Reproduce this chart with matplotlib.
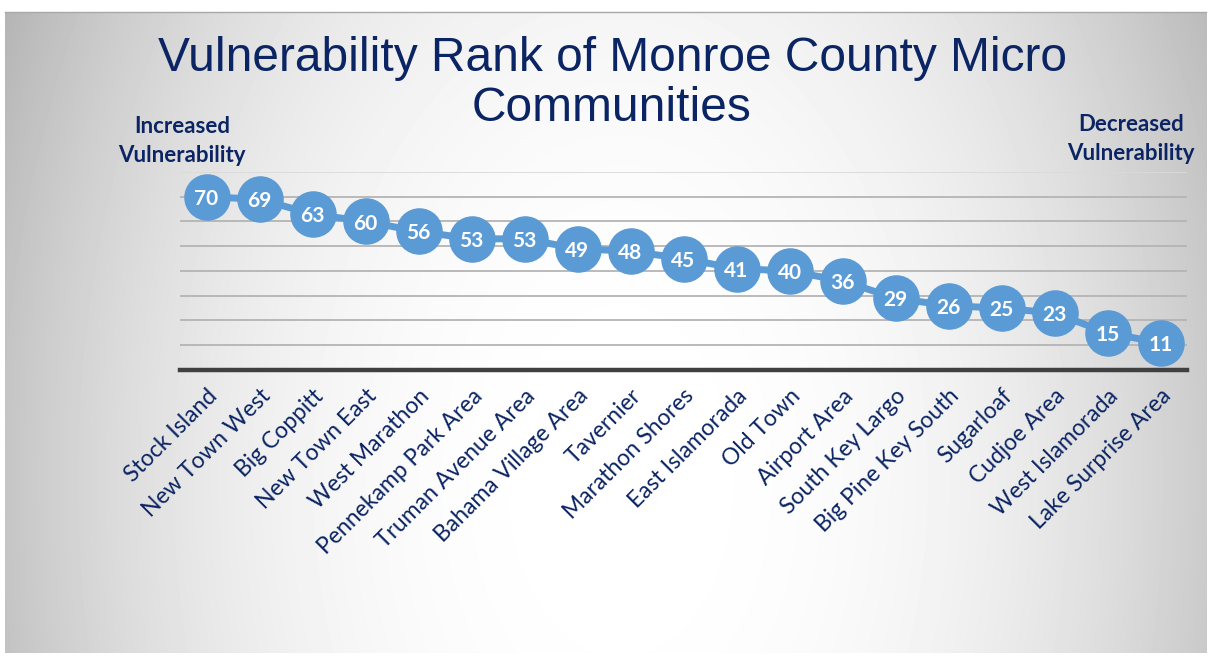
import matplotlib.pyplot as plt
import numpy as np

communities = [
    "Stock Island", "New Town West", "Big Coppitt", "New Town East",
    "West Marathon", "Pennekamp Park Area", "Truman Avenue Area",
    "Bahama Village Area", "Tavernier", "Marathon Shores",
    "East Islamorada", "Old Town", "Airport Area", "South Key Largo",
    "Big Pine Key South", "Sugarloaf", "Cudjoe Area", "West Islamorada",
    "Lake Surprise Area",
]
rank = [70, 69, 63, 60, 56, 53, 53, 49, 48, 45, 41, 40, 36, 29, 26, 25, 23, 15, 11]
grid_levels = [10, 20, 30, 40, 50, 60, 70, 80]

W, H = 1211, 656
NAVY = "#0B2463"
BLUE = "#5B9BD5"


def fx(x):
    return x / W


def fy(y):
    return 1 - y / H


fig = plt.figure(figsize=(W / 100, H / 100), dpi=100)

# radial grey-to-white backdrop
bg = fig.add_axes([0, 0, 1, 1])
bg.set_xlim(0, W)
bg.set_ylim(H, 0)
bg.axis("off")
yy, xx = np.mgrid[0:H, 0:W]
r = np.sqrt(((xx - 620) / 640.0) ** 2 + ((yy - 480) / 1000.0) ** 2)
shade = 1 - 0.25 * np.clip(r, 0, 1.2) ** 2.4
img = np.ones((H, W))
panel = (xx >= 5) & (xx <= 1206) & (yy >= 12) & (yy <= 652)
img[panel] = shade[panel]
bg.imshow(img, cmap="gray", vmin=0, vmax=1, extent=(0, W, H, 0), aspect="auto")
bg.plot([5, 1206], [12, 12], color="#A8A8A8", lw=1)

ax = fig.add_axes([fx(180), fy(370), fx(1187) - fx(180), fy(172) - fy(370)])
ax.patch.set_alpha(0)
x = np.arange(len(communities))
ax.set_xlim(-0.5, len(communities) - 0.5)
ax.set_ylim(0, 80)

for level in grid_levels:
    ax.axhline(level, color="#DADADA" if level == 80 else "#B4B4B4", lw=1.3, zorder=1)
ax.axhline(0, color="#404040", lw=3.2, zorder=2, clip_on=False)

ax.plot(x, rank, color=BLUE, lw=5, marker="o", ms=32.5, mfc=BLUE, mec=BLUE,
        zorder=3, clip_on=False)
for xi, v in zip(x, rank):
    ax.text(xi, v, str(v), ha="center", va="center_baseline", color="white",
            fontsize=15, fontweight="bold", family="Lato", zorder=4)

for side in ax.spines.values():
    side.set_visible(False)
ax.set_yticks([])
ax.set_xticks(x)
ax.set_xticklabels(communities, rotation=45, ha="right", va="top",
                   rotation_mode="anchor", color=NAVY, fontsize=16.5, family="Lato")
ax.tick_params(axis="x", length=0, pad=11)

fig.text(fx(612), fy(71), "Vulnerability Rank of Monroe County Micro", ha="center",
         va="baseline", color=NAVY, fontsize=34.5, family="Liberation Sans")
fig.text(fx(612), fy(121), "Communities", ha="center", va="baseline", color=NAVY,
         fontsize=34.5, family="Liberation Sans")

fig.text(fx(182), fy(133), "Increased", ha="center", va="baseline", color=NAVY,
         fontsize=16, fontweight="bold", family="Lato")
fig.text(fx(182), fy(162), "Vulnerability", ha="center", va="baseline", color=NAVY,
         fontsize=16, fontweight="bold", family="Lato")
fig.text(fx(1131), fy(131), "Decreased", ha="center", va="baseline", color=NAVY,
         fontsize=16, fontweight="bold", family="Lato")
fig.text(fx(1131), fy(160), "Vulnerability", ha="center", va="baseline", color=NAVY,
         fontsize=16, fontweight="bold", family="Lato")

fig.savefig("out.png", dpi=100)
